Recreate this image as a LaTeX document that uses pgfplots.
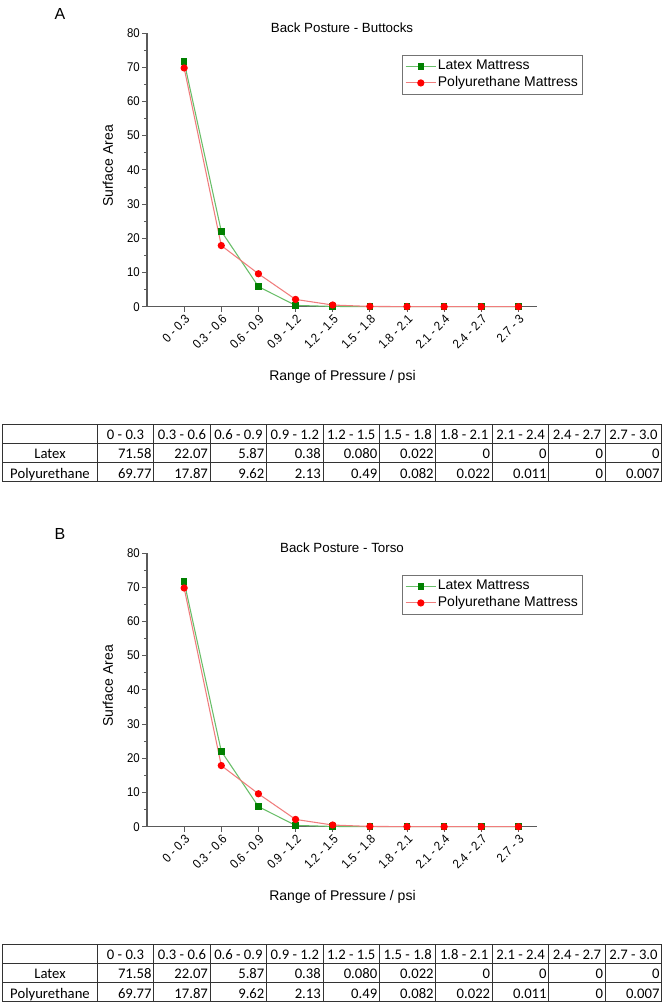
\documentclass[border=0pt]{standalone}
\usepackage{pgfplots}
\pgfplotsset{compat=1.18}
\usepackage{pgfplotstable}
\usepackage{fontspec}
\setmainfont{Liberation Sans}
\newfontfamily\tablefont{Carlito}
\newfontfamily\narrowfont[FakeStretch=0.9]{Liberation Sans}

\definecolor{lgreen}{RGB}{105,190,105}
\definecolor{dgreen}{RGB}{0,128,0}
\definecolor{lred}{RGB}{240,125,125}
\definecolor{axgray}{RGB}{90,90,90}

\pgfplotstableread{
x latex poly
0 71.58 69.77
1 22.07 17.87
2 5.87 9.62
3 0.38 2.13
4 0.080 0.49
5 0.022 0.082
6 0 0.022
7 0 0.011
8 0 0
9 0 0.007
}\datatable

\newcommand{\chart}[3]{%
  % #1 = vertical offset (px), #2 = letter, #3 = title
  \node[font=\fontsize{12}{14}\selectfont] at (60,-14-#1) {#2};
  \node[font=\fontsize{10}{12}\selectfont] at (342,-27.7-#1) {#3};
  \node[font=\fontsize{10.5}{12}\selectfont, rotate=90] at (108,-166-#1) {Surface Area};
  \node[font=\fontsize{10.5}{12}\selectfont] at (342.5,-377-#1) {Range of Pressure / psi};
  \pgfmathsetmacro\ay{(-306.7-#1)*0.75}%
  \begin{axis}[
    at={(110.25pt,\ay pt)}, anchor=south west,
    scale only axis, width=292.5pt, height=205.3pt,
    xmin=-1, xmax=9.5, ymin=0, ymax=80,
    axis lines=left, axis line style={-, draw=axgray, line width=0.8pt},
    tick align=outside, tick style={draw=axgray, line width=0.6pt},
    major tick length=3.75pt, minor tick length=2pt,
    ytick={0,10,...,80}, minor y tick num=1,
    xtick={0,...,9},
    xticklabels={0 - 0.3, 0.3 - 0.6, 0.6 - 0.9, 0.9 - 1.2, 1.2 - 1.5, 1.5 - 1.8, 1.8 - 2.1, 2.1 - 2.4, 2.4 - 2.7, 2.7 - 3},
    xticklabel style={rotate=45, anchor=north east, inner sep=1pt, font=\narrowfont\fontsize{9.5}{11}\selectfont},
    yticklabel style={inner sep=1.5pt, font=\narrowfont\fontsize{9.5}{11}\selectfont},
    /pgf/number format/assume math mode=true,
    clip=false,
    legend style={at={(0.654,0.92)}, anchor=north west, draw=black!55, line width=0.6pt,
      font=\fontsize{10.5}{12}\selectfont, inner sep=2pt,
      nodes={inner sep=1pt, text height=8pt, text depth=2.5pt}},
    legend cell align=left,
    legend image code/.code={\draw[mark repeat=2,mark phase=2] plot coordinates {(0cm,0cm) (0.4cm,0cm) (0.8cm,0cm)};},
  ]
  \addplot[lgreen, line width=0.8pt, mark=square*, mark size=2.1pt, mark options={draw=dgreen, fill=dgreen}] table[x=x,y=latex]{\datatable};
  \addplot[lred, line width=0.8pt, mark=*, mark size=2.3pt, mark options={draw=red, fill=red}] table[x=x,y=poly]{\datatable};
  \legend{Latex Mattress, Polyurethane Mattress}
  \end{axis}%
}

\newcommand{\datatab}[1]{%
  % #1 = vertical offset (px)
  \foreach \yy in {424,443.3,462.7,481.7} {\draw[black!80, line width=0.75pt] (2.5,-\yy-#1) -- (661.7,-\yy-#1);}
  \draw[black!80, line width=0.75pt] (2.5,-424-#1) -- (2.5,-481.7-#1);
  \foreach \i in {0,...,10} {\pgfmathsetmacro\xx{97.3+56.44*\i}\draw[black!80, line width=0.75pt] (\xx,-424-#1) -- (\xx,-481.7-#1);}
  \foreach \h [count=\i from 0] in {0 - 0.3, 0.3 - 0.6, 0.6 - 0.9, 0.9 - 1.2, 1.2 - 1.5, 1.5 - 1.8, 1.8 - 2.1, 2.1 - 2.4, 2.4 - 2.7, 2.7 - 3.0}
    {\pgfmathsetmacro\xx{97.3+56.44*\i+28.22}\node[anchor=base, inner sep=0pt, font=\tablefont\fontsize{11}{13}\selectfont] at (\xx,-439.3-#1) {\h};}
  \node[anchor=base, inner sep=0pt, font=\tablefont\fontsize{11}{13}\selectfont] at (50,-458.7-#1) {Latex};
  \node[anchor=base, inner sep=0pt, font=\tablefont\fontsize{11}{13}\selectfont] at (50,-478-#1) {Polyurethane};
  \foreach \v [count=\i from 1] in {71.58, 22.07, 5.87, 0.38, 0.080, 0.022, 0, 0, 0, 0}
    {\pgfmathsetmacro\xx{97.3+56.44*\i-2}\node[anchor=base east, inner sep=0pt, font=\tablefont\fontsize{11}{13}\selectfont] at (\xx,-458.7-#1) {\v};}
  \foreach \v [count=\i from 1] in {69.77, 17.87, 9.62, 2.13, 0.49, 0.082, 0.022, 0.011, 0, 0.007}
    {\pgfmathsetmacro\xx{97.3+56.44*\i-2}\node[anchor=base east, inner sep=0pt, font=\tablefont\fontsize{11}{13}\selectfont] at (\xx,-478-#1) {\v};}
}

\begin{document}
\begin{tikzpicture}[x=0.75pt, y=0.75pt]
\useasboundingbox (0,0) rectangle (664,-1005);
\chart{0}{A}{Back Posture - Buttocks}
\datatab{0}
\chart{520}{B}{Back Posture - Torso}
\datatab{520}
\end{tikzpicture}
\end{document}
